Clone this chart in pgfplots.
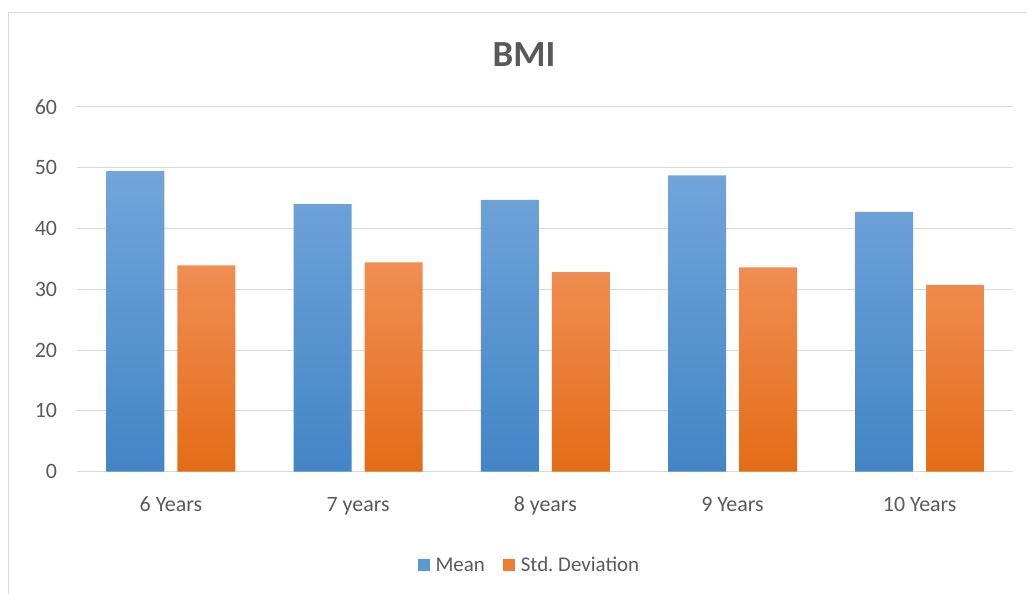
\documentclass[border=0pt]{standalone}
\usepackage{pgfplots}
\pgfplotsset{compat=1.18}
\usepackage{fontspec}
\setmainfont{Carlito}
\definecolor{txt}{RGB}{89,89,89}
\definecolor{grid}{RGB}{217,217,217}
\definecolor{bluetop}{RGB}{114,165,218}
\definecolor{bluebot}{RGB}{66,133,198}
\definecolor{bluemid}{RGB}{91,155,213}
\definecolor{orgtop}{RGB}{240,142,84}
\definecolor{orgbot}{RGB}{228,108,22}
\definecolor{orgmid}{RGB}{237,125,49}
\begin{document}
\begin{tikzpicture}[x=1bp,y=1bp]
\path[use as bounding box] (0,0) rectangle (1027,594);
\draw[color=grid,line width=1bp] (8.5,-5) -- (8.5,581.5) -- (1035,581.5);
\node[font=\fontsize{37}{42}\selectfont\bfseries,text=txt,anchor=base] at (524,527) {BMI};
\begin{axis}[
  at={(77.3bp,122.3bp)}, anchor=south west,
  scale only axis, width=936bp, height=365bp,
  xmin=-0.5, xmax=4.5, ymin=0, ymax=60,
  ytick={0,10,...,60},
  xtick=data,
  xticklabels={6 Years,7 years,8 years,9 Years,10 Years},
  ybar=13bp, bar width=58bp,
  axis line style={draw=none},
  axis x line*=bottom,
  x axis line style={draw=grid, line width=1bp},
  ymajorgrids, grid style={draw=grid, line width=1bp},
  major tick length=0pt,
  tick label style={font=\fontsize{22}{26}\selectfont, text=txt},
  /pgf/number format/assume math mode=true,
  yticklabel style={anchor=east, inner sep=0pt, xshift=-20bp},
  xticklabel style={anchor=base, inner sep=0pt, yshift=-40bp},
  legend style={at={(0.483,-0.256)}, anchor=center, draw=none, fill=none,
    legend columns=2, font=\fontsize{21}{25}\selectfont, text=txt,
    /tikz/every odd column/.append style={column sep=4bp},
    /tikz/every even column/.append style={column sep=16bp}},
  legend cell align=left,
]
\addplot[draw=none, top color=bluetop, bottom color=bluebot,
  legend image code/.code={\pgfpathrectangle{\pgfpoint{0bp}{-6bp}}{\pgfpoint{12bp}{12bp}}\pgfsetfillcolor{bluemid}\pgfusepath{fill}}]
  coordinates {(0,49.4) (1,44.0) (2,44.7) (3,48.7) (4,42.7)};
\addplot[draw=none, top color=orgtop, bottom color=orgbot,
  legend image code/.code={\pgfpathrectangle{\pgfpoint{0bp}{-6bp}}{\pgfpoint{12bp}{12bp}}\pgfsetfillcolor{orgmid}\pgfusepath{fill}}]
  coordinates {(0,33.9) (1,34.4) (2,32.8) (3,33.6) (4,30.7)};
\legend{Mean, Std.\ Deviation}
\end{axis}
\end{tikzpicture}
\end{document}
